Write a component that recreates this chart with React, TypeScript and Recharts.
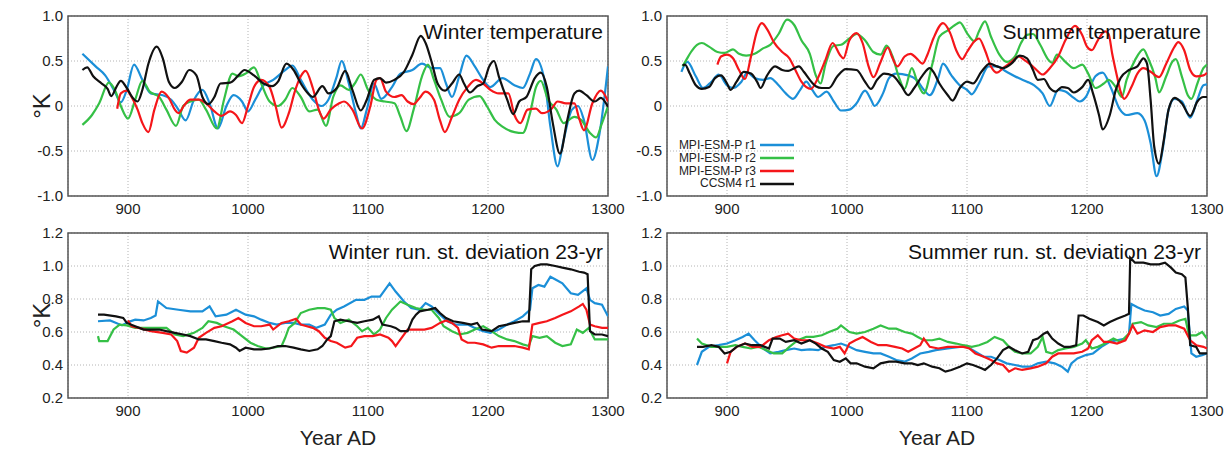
import React from 'react';
import { LineChart, Line, XAxis, YAxis, CartesianGrid, ReferenceArea, Legend } from 'recharts';

type Pt = [number, number];

const FONT = "'Liberation Sans', Arial, sans-serif";

const xTicks = [900, 1000, 1100, 1200, 1300];
const tempTicks = [-1, -0.5, 0, 0.5, 1];
const sdTicks = [0.2, 0.4, 0.6, 0.8, 1.0, 1.2];

const seriesNames = ['MPI-ESM-P r1', 'MPI-ESM-P r2', 'MPI-ESM-P r3', 'CCSM4 r1'];
const seriesColors = ['#1b8fd8', '#35c046', '#f5161a', '#111111'];

// Winter temperature (top left)
const winterTempR1: Pt[] = [[862,0.58],[873,0.44],[881,0.34],[889,0.16],[894,0.04],[899,0.18],[905,0.46],[912,0.29],[919,0.14],[929,0.12],[936,0.07],[942,-0.04],[948,-0.16],[955,0.07],[962,0.18],[968,0.03],[975,-0.25],[982,0],[988,0.12],[995,0.05],[1000,-0.06],[1006,0.07],[1013,0.23],[1021,0.29],[1031,0.4],[1037,0.45],[1044,0.29],[1054,0.07],[1061,0],[1067,0.07],[1074,0.33],[1078,0.5],[1084,0.25],[1090,-0.08],[1094,-0.25],[1099,-0.04],[1105,0.25],[1111,0.08],[1120,0.21],[1127,0.36],[1137,0.4],[1145,0.47],[1153,0.42],[1160,0.42],[1165,0.25],[1170,0.1],[1176,0.33],[1182,0.56],[1189,0.44],[1196,0.29],[1202,0.21],[1212,0.31],[1222,0.23],[1229,0.2],[1235,0.36],[1240,0.52],[1247,0.29],[1252,-0.23],[1258,-0.67],[1263,-0.38],[1270,-0.04],[1275,0],[1280,-0.16],[1287,-0.6],[1293,-0.3],[1300,0.44]];
const winterTempR2: Pt[] = [[862,-0.21],[870,-0.1],[876,0.03],[884,0.26],[889,0.18],[894,0],[900,-0.14],[906,0.07],[912,0.28],[918,0.16],[926,0.1],[932,-0.04],[940,-0.22],[946,0],[952,0.05],[959,0.07],[965,-0.04],[974,-0.25],[980,0.07],[987,0.36],[992,0.33],[998,0.36],[1005,0.43],[1011,0.25],[1018,0.05],[1025,0],[1031,0.07],[1037,0.2],[1044,0.1],[1051,-0.06],[1058,-0.04],[1065,-0.22],[1071,0.1],[1077,0.23],[1084,0.18],[1089,0.25],[1094,0.35],[1100,0.18],[1107,0.07],[1114,0.05],[1122,0.03],[1127,-0.12],[1132,-0.28],[1138,-0.04],[1145,0.33],[1150,0.46],[1155,0.29],[1161,0.07],[1168,-0.12],[1176,-0.08],[1184,0.07],[1193,0.11],[1199,0],[1206,-0.16],[1212,-0.23],[1222,-0.29],[1229,-0.3],[1235,-0.08],[1240,0.21],[1244,0.28],[1250,0.07],[1257,-0.04],[1263,-0.19],[1272,-0.12],[1278,-0.16],[1285,-0.3],[1290,-0.35],[1295,-0.19],[1300,0]];
const winterTempR3: Pt[] = [[891,-0.03],[894,0.14],[899,0.17],[903,0.1],[908,-0.04],[912,-0.19],[917,-0.29],[922,-0.04],[928,0.16],[934,0.09],[939,-0.04],[942,-0.08],[947,0.01],[952,0.07],[959,0.07],[965,0.03],[972,-0.06],[978,-0.11],[985,-0.06],[990,-0.1],[995,-0.19],[1000,0],[1005,0.21],[1011,0.29],[1018,0.21],[1023,0],[1028,-0.24],[1034,-0.08],[1039,0.16],[1044,0.33],[1048,0.39],[1054,0.2],[1059,-0.04],[1063,-0.14],[1069,-0.04],[1076,0.03],[1080,0.05],[1087,-0.04],[1095,-0.25],[1102,0],[1107,0.29],[1110,0.31],[1115,0.16],[1122,0.1],[1128,0.12],[1133,0.05],[1138,0.02],[1143,0.09],[1148,0.16],[1155,0.07],[1160,-0.16],[1164,-0.29],[1170,-0.12],[1176,0.07],[1183,0.21],[1190,0.29],[1196,0.25],[1202,0.18],[1209,0.14],[1217,0.14],[1222,-0.1],[1227,-0.19],[1233,-0.04],[1240,-0.03],[1245,-0.08],[1253,-0.03],[1258,0.05],[1265,0.03],[1272,0.03],[1276,-0.14],[1280,-0.27],[1287,0.03],[1294,0.17],[1300,0.05]];
const winterTempCcsm: Pt[] = [[862,0.4],[866,0.43],[871,0.33],[878,0.25],[883,0.19],[886,0.11],[891,0.23],[894,0.28],[899,0.2],[904,0.09],[908,0.05],[912,0.18],[917,0.47],[924,0.66],[929,0.53],[934,0.27],[939,0.2],[945,0.27],[951,0.4],[957,0.34],[962,0.1],[967,0.02],[972,0.1],[977,0.25],[985,0.26],[992,0.34],[997,0.4],[1005,0.34],[1013,0.25],[1020,0.22],[1025,0.27],[1032,0.47],[1038,0.4],[1044,0.25],[1050,0.14],[1054,0.1],[1062,0.22],[1067,0.14],[1074,0.2],[1081,0.39],[1087,0.18],[1094,-0.05],[1099,0.07],[1105,0.29],[1110,0.31],[1115,0.26],[1122,0.29],[1130,0.38],[1137,0.57],[1144,0.78],[1148,0.7],[1153,0.49],[1158,0.25],[1164,0.17],[1170,0.25],[1176,0.35],[1180,0.25],[1185,0.15],[1191,0.22],[1196,0.25],[1201,0.44],[1205,0.5],[1209,0.33],[1216,0.07],[1221,-0.09],[1226,0.05],[1232,0.1],[1239,0.31],[1244,0.37],[1249,0.21],[1254,-0.19],[1260,-0.53],[1266,-0.16],[1272,0.14],[1276,0.17],[1282,0.12],[1289,0.05],[1294,0.09],[1300,-0.01]];

// Summer temperature (top right)
const summerTempR1: Pt[] = [[862,0.38],[867,0.49],[874,0.33],[880,0.2],[887,0.27],[893,0.35],[900,0.23],[905,0.2],[912,0.27],[917,0.37],[923,0.31],[930,0.29],[936,0.31],[943,0.23],[949,0.14],[955,0.08],[961,0.18],[966,0.27],[971,0.18],[976,0.1],[983,0.16],[989,0.05],[995,-0.05],[1002,-0.04],[1008,0.03],[1015,0.17],[1020,0.07],[1023,0],[1030,0.14],[1035,0.31],[1041,0.36],[1051,0.34],[1058,0.29],[1064,0.18],[1069,0.12],[1076,0.31],[1080,0.47],[1087,0.34],[1094,0.23],[1100,0.18],[1104,0.13],[1110,0.25],[1118,0.44],[1125,0.44],[1133,0.38],[1143,0.31],[1150,0.27],[1156,0.23],[1163,0.14],[1169,0],[1176,0.18],[1182,0.16],[1189,0.09],[1194,0.05],[1199,0.1],[1207,0.33],[1213,0.37],[1220,0.2],[1227,-0.03],[1233,-0.1],[1242,-0.08],[1248,-0.16],[1253,-0.41],[1258,-0.78],[1263,-0.49],[1268,-0.04],[1273,0.08],[1279,0.05],[1286,-0.13],[1292,0.07],[1297,0.23],[1300,0.24]];
const summerTempR2: Pt[] = [[863,0.44],[866,0.51],[870,0.6],[875,0.68],[879,0.7],[885,0.66],[892,0.6],[898,0.59],[905,0.63],[910,0.58],[916,0.56],[923,0.58],[930,0.64],[936,0.68],[943,0.8],[950,0.96],[956,0.9],[962,0.73],[969,0.58],[974,0.34],[978,0.25],[982,0.46],[989,0.67],[995,0.68],[1002,0.75],[1008,0.8],[1015,0.73],[1022,0.6],[1028,0.57],[1033,0.67],[1038,0.55],[1043,0.33],[1048,0.19],[1054,0.42],[1059,0.25],[1064,0.14],[1071,0.46],[1077,0.77],[1084,0.84],[1090,0.9],[1094,0.93],[1100,0.81],[1106,0.72],[1110,0.83],[1115,0.94],[1120,0.77],[1127,0.57],[1133,0.49],[1140,0.55],[1145,0.7],[1150,0.79],[1155,0.8],[1161,0.68],[1168,0.51],[1171,0.48],[1175,0.57],[1182,0.49],[1189,0.42],[1196,0.46],[1201,0.36],[1207,0.2],[1214,0.25],[1218,0.29],[1224,0.21],[1229,0.1],[1233,0.29],[1240,0.51],[1247,0.63],[1251,0.53],[1257,0.31],[1260,0.15],[1266,0.33],[1271,0.49],[1274,0.52],[1279,0.33],[1284,0.12],[1287,0.08],[1292,0.25],[1297,0.42],[1300,0.46]];
const summerTempR3: Pt[] = [[892,0.46],[895,0.55],[900,0.57],[905,0.53],[910,0.4],[915,0.3],[920,0.55],[925,0.83],[929,0.92],[934,0.84],[939,0.71],[946,0.6],[952,0.53],[957,0.4],[962,0.27],[970,0.19],[975,0.29],[982,0.51],[988,0.7],[994,0.57],[997,0.53],[1002,0.73],[1008,0.81],[1013,0.7],[1018,0.44],[1022,0.32],[1028,0.49],[1034,0.65],[1038,0.53],[1042,0.44],[1048,0.55],[1053,0.58],[1058,0.53],[1063,0.47],[1067,0.57],[1072,0.75],[1080,0.92],[1086,0.81],[1091,0.62],[1096,0.52],[1100,0.6],[1107,0.73],[1110,0.75],[1115,0.62],[1120,0.44],[1125,0.37],[1130,0.42],[1137,0.49],[1143,0.55],[1148,0.51],[1153,0.46],[1158,0.4],[1163,0.35],[1169,0.42],[1176,0.55],[1182,0.73],[1190,0.89],[1196,0.79],[1200,0.66],[1204,0.62],[1209,0.73],[1215,0.83],[1218,0.8],[1221,0.58],[1225,0.33],[1228,0.16],[1231,0.08],[1237,0.21],[1242,0.36],[1247,0.42],[1253,0.38],[1260,0.32],[1266,0.47],[1273,0.66],[1276,0.71],[1281,0.62],[1286,0.4],[1291,0.33],[1297,0.34],[1300,0.37]];
const summerTempCcsm: Pt[] = [[863,0.45],[865,0.46],[869,0.36],[874,0.23],[879,0.19],[885,0.21],[890,0.31],[895,0.34],[900,0.25],[903,0.18],[908,0.27],[914,0.38],[920,0.36],[925,0.27],[928,0.2],[933,0.33],[940,0.44],[946,0.4],[951,0.39],[956,0.42],[960,0.44],[964,0.38],[969,0.29],[974,0.22],[979,0.2],[985,0.2],[992,0.33],[999,0.41],[1008,0.4],[1015,0.27],[1020,0.19],[1025,0.29],[1031,0.36],[1038,0.34],[1045,0.23],[1051,0.12],[1056,0.2],[1063,0.34],[1069,0.42],[1072,0.38],[1077,0.25],[1084,0.12],[1088,0.06],[1094,0.2],[1100,0.27],[1105,0.25],[1112,0.38],[1119,0.47],[1125,0.44],[1130,0.42],[1137,0.47],[1144,0.56],[1150,0.53],[1155,0.4],[1159,0.29],[1164,0.3],[1169,0.2],[1174,0.16],[1179,0.21],[1184,0.2],[1189,0.15],[1196,0.21],[1201,0.29],[1205,0.14],[1210,-0.1],[1213,-0.26],[1219,-0.1],[1224,0.18],[1228,0.31],[1235,0.4],[1242,0.44],[1247,0.53],[1250,0.47],[1253,0.07],[1256,-0.45],[1260,-0.64],[1264,-0.38],[1268,-0.04],[1273,0.09],[1279,0.03],[1286,-0.11],[1292,0.05],[1297,0.1],[1300,0.1]];

// Winter running st. deviation (bottom left)
const winterSdR1: Pt[] = [[875,0.665],[885,0.67],[895,0.64],[900,0.66],[906,0.675],[913,0.67],[919,0.685],[923,0.7],[925,0.785],[932,0.745],[942,0.735],[952,0.725],[962,0.725],[968,0.755],[973,0.695],[982,0.705],[990,0.735],[998,0.705],[1005,0.695],[1011,0.675],[1018,0.655],[1024,0.645],[1031,0.655],[1038,0.655],[1044,0.645],[1051,0.645],[1057,0.625],[1064,0.645],[1069,0.705],[1074,0.735],[1080,0.755],[1090,0.795],[1097,0.795],[1103,0.815],[1110,0.815],[1115,0.865],[1118,0.895],[1123,0.845],[1130,0.785],[1136,0.745],[1143,0.735],[1148,0.775],[1153,0.755],[1160,0.705],[1166,0.665],[1173,0.645],[1183,0.645],[1189,0.625],[1196,0.605],[1202,0.595],[1209,0.615],[1216,0.645],[1222,0.665],[1229,0.695],[1235,0.735],[1237,0.865],[1242,0.885],[1247,0.875],[1252,0.935],[1257,0.915],[1262,0.895],[1269,0.835],[1275,0.825],[1282,0.865],[1285,0.795],[1289,0.775],[1295,0.765],[1300,0.695]];
const winterSdR2: Pt[] = [[875,0.575],[876,0.545],[883,0.545],[888,0.615],[893,0.645],[899,0.64],[906,0.625],[916,0.625],[926,0.625],[932,0.625],[939,0.585],[946,0.575],[955,0.595],[962,0.625],[967,0.665],[974,0.655],[980,0.635],[988,0.615],[995,0.575],[1002,0.535],[1008,0.515],[1015,0.5],[1021,0.505],[1028,0.515],[1031,0.565],[1034,0.625],[1039,0.655],[1044,0.715],[1051,0.735],[1058,0.745],[1064,0.745],[1069,0.735],[1072,0.685],[1077,0.655],[1084,0.675],[1091,0.635],[1095,0.605],[1100,0.625],[1105,0.585],[1110,0.615],[1115,0.685],[1120,0.735],[1127,0.785],[1133,0.765],[1140,0.745],[1147,0.735],[1153,0.735],[1159,0.685],[1163,0.635],[1170,0.605],[1176,0.585],[1183,0.595],[1189,0.615],[1196,0.635],[1203,0.605],[1209,0.575],[1216,0.555],[1222,0.545],[1229,0.525],[1234,0.515],[1237,0.575],[1243,0.565],[1249,0.575],[1256,0.535],[1262,0.515],[1269,0.525],[1274,0.615],[1279,0.595],[1284,0.625],[1289,0.555],[1295,0.555],[1300,0.555]];
const winterSdR3: Pt[] = [[900,0.67],[903,0.635],[909,0.625],[919,0.605],[929,0.595],[936,0.585],[941,0.545],[944,0.485],[949,0.475],[955,0.505],[959,0.565],[965,0.595],[972,0.625],[978,0.635],[987,0.665],[992,0.685],[998,0.655],[1005,0.635],[1011,0.635],[1018,0.645],[1021,0.615],[1028,0.655],[1034,0.665],[1040,0.68],[1044,0.645],[1049,0.635],[1054,0.625],[1059,0.605],[1064,0.565],[1069,0.545],[1074,0.535],[1081,0.505],[1086,0.515],[1091,0.565],[1097,0.575],[1104,0.575],[1110,0.585],[1117,0.565],[1120,0.545],[1123,0.515],[1128,0.565],[1133,0.615],[1140,0.615],[1147,0.615],[1153,0.625],[1160,0.655],[1165,0.67],[1170,0.655],[1175,0.625],[1178,0.555],[1183,0.535],[1189,0.535],[1196,0.525],[1203,0.505],[1209,0.515],[1216,0.515],[1222,0.515],[1229,0.505],[1234,0.495],[1237,0.645],[1243,0.655],[1249,0.665],[1256,0.685],[1262,0.705],[1269,0.725],[1276,0.755],[1279,0.77],[1282,0.735],[1285,0.645],[1289,0.635],[1295,0.625],[1300,0.625]];
const winterSdCcsm: Pt[] = [[875,0.705],[880,0.705],[890,0.695],[896,0.685],[899,0.655],[906,0.635],[913,0.615],[919,0.615],[926,0.615],[932,0.605],[939,0.595],[946,0.585],[952,0.575],[959,0.555],[965,0.555],[972,0.545],[978,0.535],[985,0.525],[990,0.505],[993,0.485],[998,0.505],[1005,0.495],[1011,0.495],[1018,0.5],[1025,0.515],[1031,0.515],[1038,0.505],[1044,0.495],[1051,0.485],[1058,0.495],[1062,0.515],[1066,0.555],[1069,0.575],[1072,0.665],[1077,0.675],[1084,0.665],[1091,0.655],[1097,0.665],[1104,0.675],[1109,0.695],[1112,0.645],[1119,0.635],[1123,0.625],[1127,0.605],[1133,0.605],[1137,0.675],[1140,0.705],[1143,0.725],[1150,0.735],[1156,0.745],[1160,0.715],[1165,0.685],[1171,0.665],[1179,0.655],[1186,0.645],[1191,0.655],[1195,0.615],[1203,0.605],[1209,0.635],[1216,0.645],[1222,0.655],[1229,0.665],[1234,0.665],[1236,0.98],[1239,1.0],[1244,1.01],[1249,1.01],[1256,1.0],[1262,0.99],[1269,0.98],[1276,0.965],[1280,0.96],[1283,0.95],[1285,0.605],[1289,0.585],[1295,0.585],[1300,0.575]];

// Summer running st. deviation (bottom right)
const summerSdR1: Pt[] = [[875,0.4],[879,0.48],[885,0.51],[893,0.52],[900,0.53],[907,0.55],[913,0.57],[918,0.59],[923,0.55],[930,0.5],[936,0.47],[943,0.48],[949,0.49],[956,0.5],[962,0.49],[969,0.495],[976,0.49],[982,0.51],[989,0.52],[995,0.53],[1002,0.51],[1008,0.49],[1015,0.48],[1022,0.47],[1028,0.47],[1035,0.45],[1041,0.43],[1048,0.42],[1054,0.44],[1061,0.47],[1068,0.48],[1074,0.49],[1084,0.5],[1094,0.51],[1100,0.51],[1107,0.48],[1114,0.45],[1120,0.45],[1127,0.43],[1133,0.41],[1140,0.4],[1146,0.39],[1153,0.39],[1159,0.41],[1166,0.42],[1173,0.41],[1179,0.39],[1184,0.36],[1187,0.41],[1192,0.44],[1199,0.46],[1205,0.47],[1212,0.51],[1219,0.54],[1225,0.55],[1232,0.56],[1235,0.59],[1237,0.77],[1242,0.75],[1248,0.73],[1255,0.72],[1261,0.7],[1268,0.71],[1274,0.74],[1281,0.755],[1284,0.73],[1287,0.47],[1291,0.45],[1296,0.46],[1300,0.47]];
const summerSdR2: Pt[] = [[875,0.56],[879,0.53],[887,0.51],[893,0.51],[900,0.51],[907,0.52],[913,0.51],[920,0.5],[926,0.51],[933,0.49],[939,0.47],[946,0.47],[952,0.51],[959,0.55],[966,0.57],[972,0.57],[979,0.58],[985,0.6],[992,0.62],[995,0.64],[1002,0.6],[1008,0.59],[1015,0.6],[1022,0.62],[1028,0.64],[1035,0.62],[1041,0.62],[1048,0.6],[1054,0.59],[1059,0.57],[1064,0.55],[1071,0.55],[1077,0.56],[1084,0.54],[1091,0.53],[1097,0.52],[1104,0.51],[1110,0.52],[1117,0.54],[1123,0.57],[1130,0.55],[1135,0.51],[1140,0.48],[1146,0.47],[1153,0.47],[1159,0.51],[1163,0.57],[1166,0.48],[1171,0.47],[1176,0.49],[1182,0.5],[1189,0.51],[1196,0.53],[1199,0.55],[1204,0.5],[1209,0.51],[1215,0.53],[1222,0.56],[1228,0.54],[1232,0.57],[1235,0.59],[1238,0.65],[1245,0.66],[1251,0.64],[1258,0.63],[1264,0.65],[1271,0.65],[1277,0.67],[1282,0.68],[1285,0.58],[1291,0.58],[1296,0.6],[1300,0.56]];
const summerSdR3: Pt[] = [[900,0.41],[903,0.48],[908,0.51],[915,0.53],[921,0.51],[928,0.51],[935,0.55],[941,0.57],[946,0.58],[951,0.59],[956,0.56],[962,0.55],[969,0.55],[976,0.53],[982,0.51],[989,0.5],[994,0.51],[998,0.47],[1002,0.53],[1007,0.55],[1013,0.57],[1020,0.54],[1026,0.52],[1033,0.52],[1040,0.51],[1046,0.5],[1051,0.48],[1056,0.5],[1061,0.52],[1064,0.56],[1069,0.51],[1076,0.5],[1084,0.51],[1091,0.51],[1097,0.51],[1102,0.5],[1107,0.47],[1114,0.45],[1120,0.43],[1125,0.41],[1130,0.4],[1135,0.36],[1140,0.38],[1146,0.37],[1153,0.38],[1159,0.39],[1166,0.41],[1171,0.45],[1176,0.47],[1182,0.47],[1189,0.47],[1196,0.48],[1201,0.5],[1204,0.55],[1209,0.58],[1214,0.54],[1219,0.54],[1225,0.53],[1232,0.55],[1235,0.59],[1238,0.64],[1242,0.59],[1248,0.61],[1255,0.6],[1261,0.63],[1268,0.64],[1274,0.64],[1281,0.62],[1286,0.55],[1291,0.52],[1297,0.51],[1300,0.5]];
const summerSdCcsm: Pt[] = [[875,0.51],[880,0.51],[887,0.52],[893,0.51],[898,0.47],[903,0.48],[908,0.51],[915,0.53],[921,0.52],[928,0.52],[935,0.5],[938,0.56],[944,0.56],[949,0.54],[956,0.55],[962,0.53],[969,0.55],[974,0.53],[979,0.5],[984,0.48],[989,0.43],[994,0.42],[999,0.44],[1003,0.41],[1008,0.41],[1015,0.39],[1022,0.38],[1028,0.41],[1035,0.42],[1041,0.42],[1048,0.41],[1054,0.41],[1059,0.4],[1064,0.41],[1071,0.39],[1077,0.38],[1082,0.36],[1087,0.37],[1094,0.39],[1100,0.41],[1105,0.4],[1112,0.38],[1115,0.37],[1120,0.4],[1125,0.44],[1130,0.49],[1135,0.51],[1140,0.49],[1146,0.47],[1151,0.48],[1155,0.55],[1159,0.56],[1164,0.59],[1167,0.6],[1171,0.56],[1176,0.53],[1181,0.51],[1186,0.51],[1191,0.52],[1193,0.7],[1197,0.7],[1202,0.68],[1209,0.66],[1214,0.64],[1219,0.66],[1225,0.68],[1232,0.7],[1235,0.71],[1236,1.05],[1240,1.02],[1247,1.02],[1253,1.01],[1260,1.01],[1265,1.02],[1270,0.99],[1274,0.96],[1279,0.95],[1282,0.93],[1284,0.75],[1286,0.52],[1291,0.51],[1294,0.47],[1300,0.47]];

const toRows = (pts: Pt[]) => pts.map(([year, value]) => ({ year, value }));

const DegLabel = ({ viewBox }: any) => {
  const cx = viewBox.x + 41;
  const cy = viewBox.y + viewBox.height / 2;
  return (
    <text x={cx} y={cy} transform={`rotate(-90 ${cx} ${cy})`} textAnchor="middle" dominantBaseline="central"
      fontSize={24} fill="#222" fontFamily={FONT}>°K</text>
  );
};

const YearLabel = ({ viewBox }: any) => (
  <text x={viewBox.x + viewBox.width / 2} y={viewBox.y + viewBox.height - 7} textAnchor="middle"
    fontSize={21} fill="#222" fontFamily={FONT}>Year AD</text>
);

const LegendBox = ({ payload }: any) => {
  const items = [...(payload || [])].sort((a: any, b: any) => seriesNames.indexOf(a.value) - seriesNames.indexOf(b.value));
  return (
    <div style={{ display: 'flex', flexDirection: 'column', alignItems: 'flex-end', fontFamily: FONT, fontSize: 12, color: '#222' }}>
      {items.map((p: any) => (
        <div key={p.value} style={{ display: 'flex', alignItems: 'center', height: 12.8, lineHeight: '12.8px' }}>
          <span>{p.value}</span>
          <svg width={34} height={4} style={{ marginLeft: 4 }}>
            <line x1={0} y1={2} x2={34} y2={2} stroke={p.color} strokeWidth={2.5} />
          </svg>
        </div>
      ))}
    </div>
  );
};

interface PanelProps {
  left: number;
  top: number;
  width: number;
  height: number;
  marginTop: number;
  marginRight: number;
  yAxisWidth: number;
  xAxisHeight: number;
  yDomain: [number, number];
  yTicks: number[];
  fmt: (v: number) => string;
  series: Pt[][];
  curve: 'monotone' | 'linear';
  degLabel?: boolean;
  yearLabel?: boolean;
  legend?: boolean;
}

const Panel: React.FC<PanelProps> = (p) => (
  <div style={{ position: 'absolute', left: p.left, top: p.top }}>
    <LineChart width={p.width} height={p.height}
      margin={{ top: p.marginTop, right: p.marginRight, bottom: 0, left: 0 }}>
      <CartesianGrid stroke="#b4b4b4" strokeDasharray="1 2" />
      <XAxis type="number" dataKey="year" domain={[850, 1300]} ticks={xTicks} interval={0}
        allowDataOverflow tickLine={false} axisLine={false} tickSize={4} tickMargin={3}
        height={p.xAxisHeight} tick={{ fontSize: 15, fill: '#222', fontFamily: FONT }}
        label={p.yearLabel ? <YearLabel /> : undefined} />
      <YAxis type="number" domain={p.yDomain} ticks={p.yTicks} interval={0} allowDataOverflow
        tickFormatter={p.fmt} tickLine={false} axisLine={false} tickSize={3} tickMargin={2}
        width={p.yAxisWidth} tick={{ fontSize: 15, fill: '#222', fontFamily: FONT }}
        label={p.degLabel ? <DegLabel /> : undefined} />
      {p.series.map((pts, i) => (
        <Line key={seriesNames[i]} data={toRows(pts)} dataKey="value" name={seriesNames[i]}
          type={p.curve} stroke={seriesColors[i]} strokeWidth={2.2} dot={false}
          isAnimationActive={false} />
      ))}
      <ReferenceArea x1={850} x2={1300} y1={p.yDomain[0]} y2={p.yDomain[1]} fill="none"
        fillOpacity={0} stroke="#555" strokeWidth={1.5} ifOverflow="visible" />
      {p.legend && (
        <Legend layout="vertical" align="center" verticalAlign="middle" content={<LegendBox />}
          wrapperStyle={{ left: 24, top: 139, width: 160 }} />
      )}
    </LineChart>
  </div>
);

const Title = ({ right, top, text }: { right: number; top: number; text: string }) => (
  <div style={{ position: 'absolute', right: 1230 - right, top, fontFamily: FONT, fontSize: 21,
    lineHeight: '21px', color: '#111', whiteSpace: 'nowrap' }}>{text}</div>
);

const tempFmt = (v: number) => (v === 0 ? '0' : v.toFixed(1));
const sdFmt = (v: number) => v.toFixed(1);

export default function App() {
  return (
    <div style={{ position: 'absolute', left: 0, top: 0, width: 1230, height: 452, background: '#fff', overflow: 'hidden' }}>
      <Panel left={0} top={0} width={640} height={230} marginTop={16} marginRight={32} yAxisWidth={68} xAxisHeight={34}
        yDomain={[-1, 1]} yTicks={tempTicks} fmt={tempFmt} curve="monotone" degLabel
        series={[winterTempR1, winterTempR2, winterTempR3, winterTempCcsm]} />
      <Panel left={610} top={0} width={620} height={230} marginTop={16} marginRight={23} yAxisWidth={57} xAxisHeight={34}
        yDomain={[-1, 1]} yTicks={tempTicks} fmt={tempFmt} curve="monotone" legend
        series={[summerTempR1, summerTempR2, summerTempR3, summerTempCcsm]} />
      <Panel left={0} top={220} width={640} height={232} marginTop={13} marginRight={32} yAxisWidth={68} xAxisHeight={54}
        yDomain={[0.2, 1.2]} yTicks={sdTicks} fmt={sdFmt} curve="linear" degLabel yearLabel
        series={[winterSdR1, winterSdR2, winterSdR3, winterSdCcsm]} />
      <Panel left={610} top={220} width={620} height={232} marginTop={13} marginRight={23} yAxisWidth={57} xAxisHeight={54}
        yDomain={[0.2, 1.2]} yTicks={sdTicks} fmt={sdFmt} curve="linear" yearLabel
        series={[summerSdR1, summerSdR2, summerSdR3, summerSdCcsm]} />
      <Title right={603} top={21} text="Winter temperature" />
      <Title right={1201} top={21} text="Summer temperature" />
      <Title right={603} top={241} text="Winter run. st. deviation 23-yr" />
      <Title right={1201} top={241} text="Summer run. st. deviation 23-yr" />
    </div>
  );
}
